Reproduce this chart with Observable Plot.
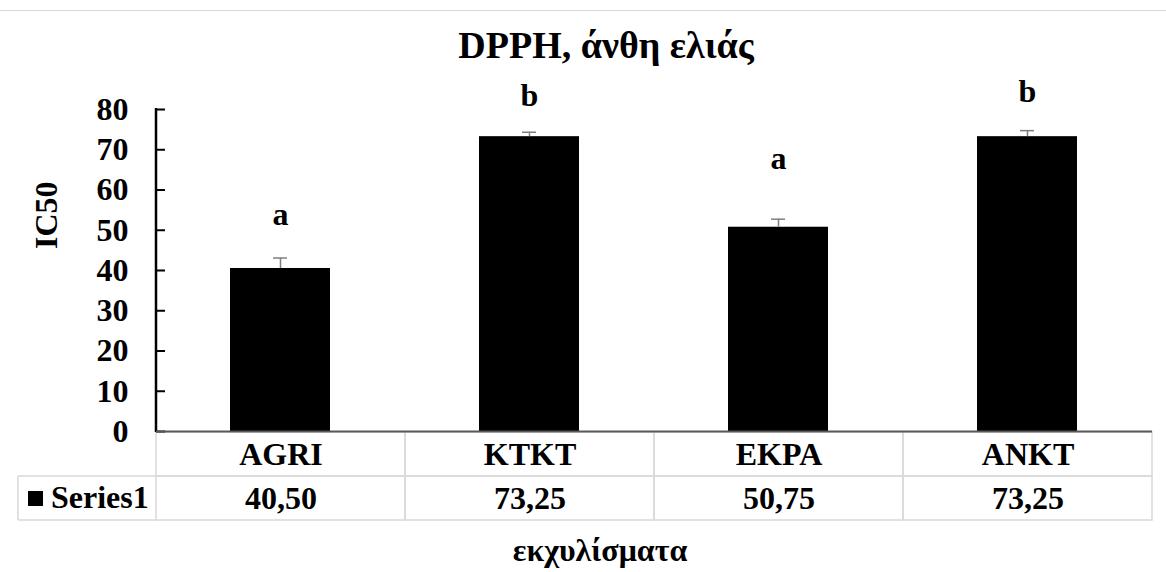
<!DOCTYPE html>
<html>
<head>
<meta charset="utf-8">
<script src="https://cdn.jsdelivr.net/npm/d3@7"></script>
<script src="https://cdn.jsdelivr.net/npm/@observablehq/plot@0.6"></script>
<style>
  html, body { margin: 0; padding: 0; background: #fff; }
  #wrap { position: relative; width: 1166px; height: 572px; overflow: hidden; }
  #topline { position: absolute; left: 0; top: 10px; width: 1166px; height: 0; border-top: 1px solid #d9d9d9; }
  #title { position: absolute; left: 0; top: 20px; }
  #table { position: absolute; left: 0; top: 431px; }
  #chart { position: absolute; left: 0; top: 70px; }
  #xlabel { position: absolute; left: 0; top: 528px; }
  svg { display: block; }
</style>
</head>
<body>
<div id="wrap">
  <div id="topline"></div>
  <div id="title"></div>
  <div id="table"></div>
  <div id="chart"></div>
  <div id="xlabel"></div>
</div>
<script>
// ---- data ----
const categories = ["AGRI", "KTKT", "EKPA", "ANKT"];
const values = [40.50, 73.25, 50.75, 73.25];
const errors = [2.6, 1.1, 2.0, 1.5];
const letters = ["a", "b", "a", "b"];
const letterHeights = [51.2, 80.8, 65.2, 81.8];
const yTicks = [0, 10, 20, 30, 40, 50, 60, 70, 80];
const yDomain = [0, 80];
const seriesName = "Series1";
const titleText = "DPPH, άνθη ελιάς";
const yLabel = "IC50";
const xLabel = "εκχυλίσματα";

// ---- layout ----
const W = 1166, H = 370, ML = 156, MR = 14, MT = 39, MB = 9;
const FONT = "'Liberation Serif', 'Times New Roman', serif";
const FS = 32;
const GRID = "#d9d9d9";
const baseStyle = { fontFamily: FONT, fontSize: FS + "px", fontWeight: "bold", color: "#000", background: "transparent", overflow: "visible" };

const rows = categories.map((c, i) => ({
  cat: c, value: values[i], err: errors[i], letter: letters[i], ly: letterHeights[i]
}));

function yAxisLine(index, scales, vals, dims) {
  const y = scales.y;
  const g = d3.create("svg:g");
  g.append("line")
    .attr("x1", dims.marginLeft).attr("x2", dims.marginLeft)
    .attr("y1", y(yDomain[0]) + 1).attr("y2", y(yDomain[1]) - 1)
    .attr("stroke", "#000").attr("stroke-width", 2.5);
  return g.node();
}

// ---- main chart ----
const chart = Plot.plot({
  width: W, height: H,
  marginLeft: ML, marginRight: MR, marginTop: MT, marginBottom: MB,
  style: baseStyle,
  x: { type: "band", domain: categories, paddingInner: 0.598, paddingOuter: 0.299, axis: null },
  y: { domain: yDomain, axis: null },
  marks: [
    Plot.barY(rows, { x: "cat", y: "value", fill: "#000" }),
    Plot.ruleX(rows, { x: "cat", y1: "value", y2: d => d.value + d.err, stroke: "#7f7f7f", strokeWidth: 1.5 }),
    Plot.tickY(rows, { x: "cat", y: d => d.value + d.err, stroke: "#7f7f7f", strokeWidth: 1.5, insetLeft: 43, insetRight: 43 }),
    Plot.text(rows, { x: "cat", y: "ly", text: "letter", lineAnchor: "bottom", fontSize: FS, fontWeight: "bold", fill: "#000" }),
    Plot.axisY({ ticks: yTicks, tickSize: 0, tickPadding: 28, label: null, fontSize: FS, fontWeight: "bold", tickFormat: d => String(d) }),
    Plot.tickY(yTicks, { y: d => d, stroke: "#000", strokeWidth: 2, insetRight: W - ML - MR - 9 }),
    yAxisLine,
    Plot.ruleY([0], { stroke: "#595959", strokeWidth: 2 }),
    Plot.text([yLabel], { text: d => d, frameAnchor: "left", rotate: -90, dx: -109.5, dy: -21.5, fontSize: FS, fontWeight: "bold", fill: "#000" })
  ]
});
document.getElementById("chart").appendChild(chart);

// ---- data table (drawn with Plot, columns aligned with the chart's bands) ----
const fmt = v => v.toFixed(2).replace(".", ",");
const tableRowKeys = ["cat", "val"];
const cells = categories.flatMap((c, i) => [
  { cat: c, row: "cat", text: c },
  { cat: c, row: "val", text: fmt(values[i]) }
]);
function legendCell(index, scales, vals, dims) {
  const y = scales.y;
  const bw = typeof y.bandwidth === "function" ? y.bandwidth() : (+y.bandwidth || 44.5);
  const y0 = y("val"), y1 = y0 + bw;
  const x0 = 18, x1 = dims.marginLeft;
  const g = d3.create("svg:g");
  const seg = (ax, ay, bx, by) => g.append("line")
    .attr("x1", ax).attr("y1", ay).attr("x2", bx).attr("y2", by)
    .attr("stroke", GRID).attr("stroke-width", 1.5);
  seg(x0, y0, x1, y0);
  seg(x0, y1, x1, y1);
  seg(x0, y0, x0, y1);
  g.append("rect").attr("x", 28).attr("y", (y0 + y1) / 2 - 7).attr("width", 15).attr("height", 15).attr("fill", "#000");
  g.append("text").attr("x", 51).attr("y", (y0 + y1) / 2).attr("dy", "0.32em")
    .attr("text-anchor", "start")
    .attr("font-size", FS).attr("font-weight", "bold").attr("fill", "#000").text(seriesName);
  return g.node();
}
const table = Plot.plot({
  width: W, height: 91,
  marginLeft: ML, marginRight: MR, marginTop: 0, marginBottom: 2,
  style: baseStyle,
  x: { type: "band", domain: categories, padding: 0, axis: null },
  y: { type: "band", domain: tableRowKeys, padding: 0, axis: null },
  marks: [
    Plot.cell(cells, { x: "cat", y: "row", fill: "none", stroke: GRID, strokeWidth: 1.5 }),
    Plot.text(cells, { x: "cat", y: "row", text: "text", fontSize: FS, fontWeight: "bold", fill: "#000" }),
    legendCell
  ]
});
document.getElementById("table").appendChild(table);

// ---- title and x label (SVG text above / below) ----
const t = d3.select("#title").append("svg").attr("width", W).attr("height", 50)
  .style("font-family", FONT).style("font-weight", "bold");
t.append("text").attr("x", 606).attr("y", 38).attr("text-anchor", "middle")
  .attr("font-size", 38).attr("fill", "#000").text(titleText);

const xl = d3.select("#xlabel").append("svg").attr("width", W).attr("height", 44)
  .style("font-family", FONT).style("font-weight", "bold");
xl.append("text").attr("x", 600).attr("y", 33).attr("text-anchor", "middle")
  .attr("font-size", FS).attr("fill", "#000").text(xLabel);
</script>
</body>
</html>
